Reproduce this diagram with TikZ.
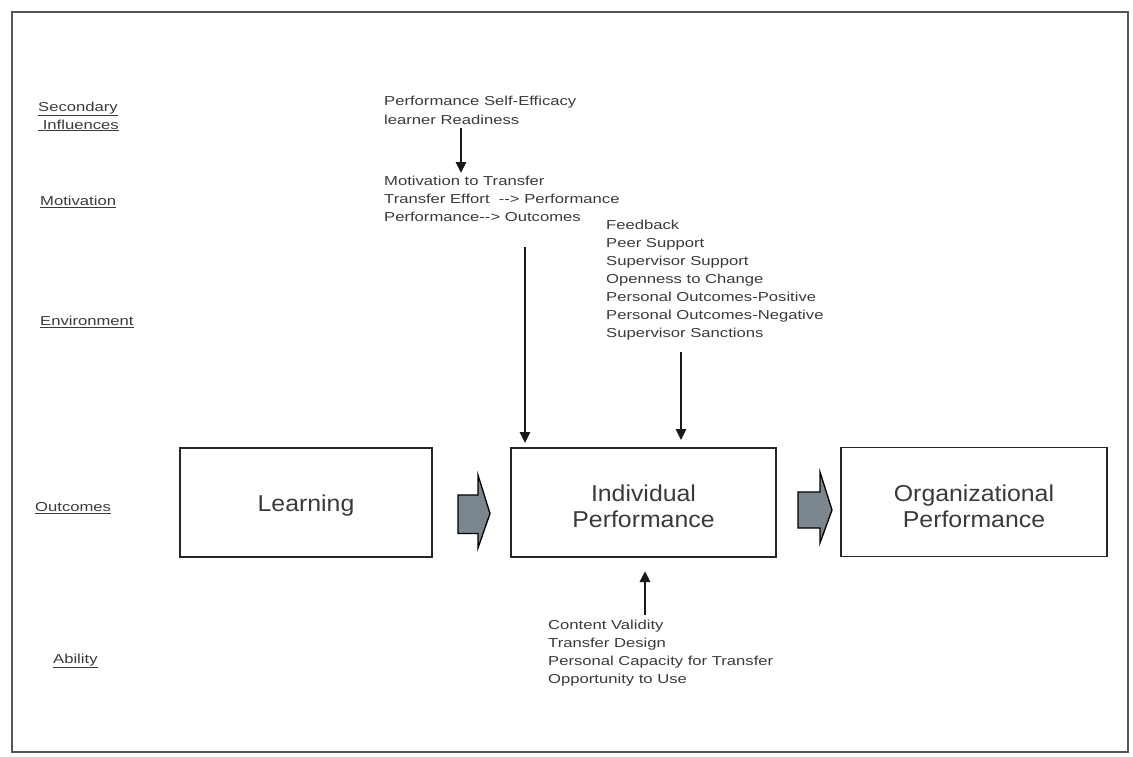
\documentclass[tikz,border=0pt]{standalone}
\usepackage{fontspec}
\setmainfont{Liberation Sans}
\newfontfamily\smallf[FakeStretch=1.28]{Liberation Sans}
\newfontfamily\bigf[FakeStretch=1.08]{Liberation Sans}
\usetikzlibrary{arrows.meta}
\definecolor{txt}{HTML}{3A3A3A}
\definecolor{frame}{HTML}{555555}
\definecolor{blkfill}{HTML}{7C868E}
\tikzset{
  smalltext/.style={inner sep=0pt, align=left, text=txt, font=\smallf\fontsize{13}{18}\selectfont},
  lbl/.style={inner sep=0pt, align=left, text=txt, font=\smallf\fontsize{13}{18}\selectfont},
  stage/.style={draw=black!85, line width=1.8pt, minimum height=109pt, inner sep=0pt},
  stagetext/.style={inner sep=0pt, align=center, text=txt, font=\bigf\fontsize{23}{26}\selectfont},
  arr/.style={draw=black!90, line width=2.7pt, -{Triangle[width=10pt,length=11pt]}},
  blk/.style={draw=black, line width=1.3pt, fill=blkfill, line join=miter},
}
\begin{document}
\begin{tikzpicture}[x=1pt,y=-1pt]
\useasboundingbox (0,0) rectangle (1133,756);
\draw[frame, line width=2.6pt] (12,12) rectangle (1128,752);

% left labels
\node[lbl, anchor=north west] (lsec) at (38,101.5) {\underline{Secondary}\\\underline{\ Influences}};
\node[lbl, anchor=base west] (lmot) at (40,205.5) {\underline{Motivation}};
\node[lbl, anchor=base west] (lenv) at (40,325.5) {\underline{Environment}};
\node[lbl, anchor=base west] (lout) at (35,511.5) {\underline{Outcomes}};
\node[lbl, anchor=base west] (labl) at (53,663.5) {\underline{Ability}};

% stage boxes
\node[stage, minimum width=252pt] (learn) at (306,502.5) {};
\node[stage, minimum width=265pt] (indiv) at (643.5,502.5) {};
\node[stage, minimum width=266pt] (org) at (974,502) {};
\node[stagetext] (learnT) at ([yshift=-3pt]learn.center) {Learning};
\node[stagetext] (indivT) at ([yshift=-4pt]indiv.center) {Individual\\Performance};
\node[stagetext] (orgT) at ([yshift=-4pt]org.center) {Organizational\\Performance};

% factor text blocks
\node[smalltext, anchor=north west] (sec) at (384,95.5) {Performance Self-Efficacy\\[1pt]learner Readiness};
\node[smalltext, anchor=north west] (mot) at (384,175.5) {Motivation to Transfer\\Transfer Effort\ \ --> Performance\\Performance--> Outcomes};
\node[smalltext, anchor=north west] (env) at (606,219.5) {Feedback\\Peer Support\\Supervisor Support\\Openness to Change\\Personal Outcomes-Positive\\Personal Outcomes-Negative\\Supervisor Sanctions};
\node[smalltext, anchor=north west] (abl) at (548,619.5) {Content Validity\\Transfer Design\\Personal Capacity for Transfer\\Opportunity to Use};

% arrows
\coordinate (s1) at (461,128);
\coordinate (s2) at (461,173);
\draw[arr] (s1) -- (s2);
\coordinate (m1) at (525,247);
\draw[arr, shorten >=4pt] (m1) -- (m1 |- indiv.north);
\coordinate (e1) at (681,352);
\draw[arr, shorten >=7pt] (e1) -- (e1 |- indiv.north);
\coordinate (a1) at (645,615);
\coordinate (a2) at (645,571);
\draw[arr] (a1) -- (a2);

% block arrows
\coordinate (b1) at (458,513.5);
\draw[blk] (b1) ++(0,-18.5) -- ++(20,0) -- ++(0,-20) -- ++(12,38.5) -- ++(-12,34.5) -- ++(0,-14.5) -- ++(-20,0) -- cycle;
\coordinate (b2) at (798,510);
\draw[blk] (b2) ++(0,-18) -- ++(22,0) -- ++(0,-20) -- ++(12,38) -- ++(-12,33) -- ++(0,-15) -- ++(-22,0) -- cycle;
\end{tikzpicture}
\end{document}
